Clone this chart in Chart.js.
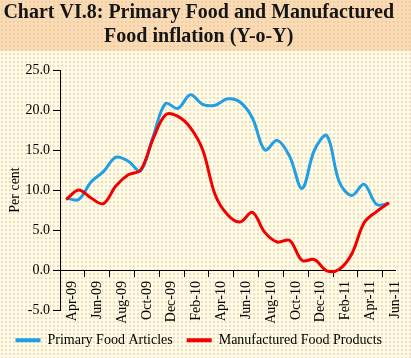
<!DOCTYPE html>
<html><head><meta charset="utf-8">
<script src="https://cdn.jsdelivr.net/npm/chart.js@4"></script>
<style>
html,body{margin:0;padding:0;background:#FFFCE6;}
#wrap{position:relative;width:411px;height:358px;overflow:hidden;
 background-color:#FFFCE6;
 background-image: radial-gradient(circle, rgba(232,190,170,0.55) 0.7px, transparent 1px), linear-gradient(#FADCB2, #FADCB2);
 background-size: 4px 4px, 411px 51px;
 background-repeat: repeat, no-repeat;}
canvas{display:block;}
</style></head><body><div id="wrap"><canvas id="c" width="411" height="358"></canvas></div>
<script>
const months = ['Apr-09','May-09','Jun-09','Jul-09','Aug-09','Sep-09','Oct-09','Nov-09','Dec-09',
  'Jan-10','Feb-10','Mar-10','Apr-10','May-10','Jun-10','Jul-10','Aug-10','Sep-10','Oct-10','Nov-10','Dec-10',
  'Jan-11','Feb-11','Mar-11','Apr-11','May-11','Jun-11'];
const primaryFood = [9.0, 8.8, 11.0, 12.3, 14.1, 13.6, 12.4, 16.7, 20.8, 20.2, 21.9, 20.7, 20.6, 21.4,
  21.0, 19.0, 15.0, 16.2, 14.2, 10.2, 15.0, 16.8, 11.0, 9.3, 10.7, 8.2, 8.3];
const manufacturedFood = [8.8, 10.0, 9.0, 8.3, 10.5, 11.9, 12.5, 16.4, 19.4, 19.2, 17.8, 15.0, 9.4, 6.9,
  6.0, 7.2, 4.7, 3.5, 3.7, 1.2, 1.3, -0.1, 0.1, 2.0, 5.9, 7.3, 8.4];
const seriesNames = ['Primary Food Articles', 'Manufactured Food Products'];
const titleLines = ['Chart VI.8: Primary Food and Manufactured', 'Food inflation (Y-o-Y)'];
const yTitle = 'Per cent';

const serif = "'Liberation Serif', 'Times New Roman', serif";
const BLUE = '#1E9FE6', RED = '#F20000';
Chart.defaults.font.family = serif;
Chart.defaults.font.size = 14;
Chart.defaults.color = '#000';

new Chart(document.getElementById('c'), {
  type: 'line',
  data: {
    labels: months,
    datasets: [
      {label: seriesNames[0], data: primaryFood, borderColor: BLUE, backgroundColor: BLUE,
       borderWidth: 3, pointRadius: 0, tension: 0.35, order: 1, fill: false},
      {label: seriesNames[1], data: manufacturedFood, borderColor: RED, backgroundColor: RED,
       borderWidth: 3, pointRadius: 0, tension: 0.35, order: 0, fill: false}
    ]
  },
  options: {
    responsive: false,
    animation: false,
    layout: {padding: {left: 0, right: 13.5, top: 0, bottom: 0.8}},
    plugins: {
      tooltip: {enabled: false},
      title: {
        display: true, text: titleLines, color: '#161616',
        font: {family: serif, size: 20, weight: 'bold', lineHeight: 1.2},
        padding: {top: 1, bottom: 21}
      },
      legend: {
        position: 'bottom',
        title: {display: true, text: '', font: {family: serif, size: 1}, padding: {top: 8, bottom: 0}},
        labels: {
          boxWidth: 25, boxHeight: 4, padding: 14, color: '#000',
          font: {family: serif, size: 14},
          generateLabels: (chart) => Chart.defaults.plugins.legend.labels.generateLabels(chart)
            .map(l => Object.assign(l, {lineWidth: 0}))
            .sort((a, b) => a.datasetIndex - b.datasetIndex)
        }
      }
    },
    scales: {
      x: {
        type: 'category',
        position: {y: 0},
        offset: true,
        border: {color: '#000', width: 1},
        grid: {
          offset: true, drawOnChartArea: false, tickLength: 6,
          color: '#000',
          tickColor: (ctx) => (ctx.tick && ctx.index % 2 === 0) ? '#000' : 'rgba(0,0,0,0)'
        },
        ticks: {
          autoSkip: false, maxRotation: 90, minRotation: 90, labelOffset: 6.25, padding: 5,
          color: '#000', font: {family: serif, size: 14},
          callback: function (value, index) { return index % 2 === 0 ? this.getLabelForValue(value) : ''; }
        }
      },
      y: {
        min: -5, max: 25,
        border: {color: '#000', width: 1},
        grid: {drawOnChartArea: false, tickLength: 7, color: '#000'},
        ticks: {stepSize: 5, padding: 3, color: '#000', font: {family: serif, size: 14},
          callback: (v) => Number(v).toFixed(1)},
        title: {display: true, text: yTitle, color: '#000', font: {family: serif, size: 14},
          padding: {top: 7, bottom: 0}},
        afterFit: (s) => { s.width = 60; }
      }
    }
  }
});
</script>
</body></html>
